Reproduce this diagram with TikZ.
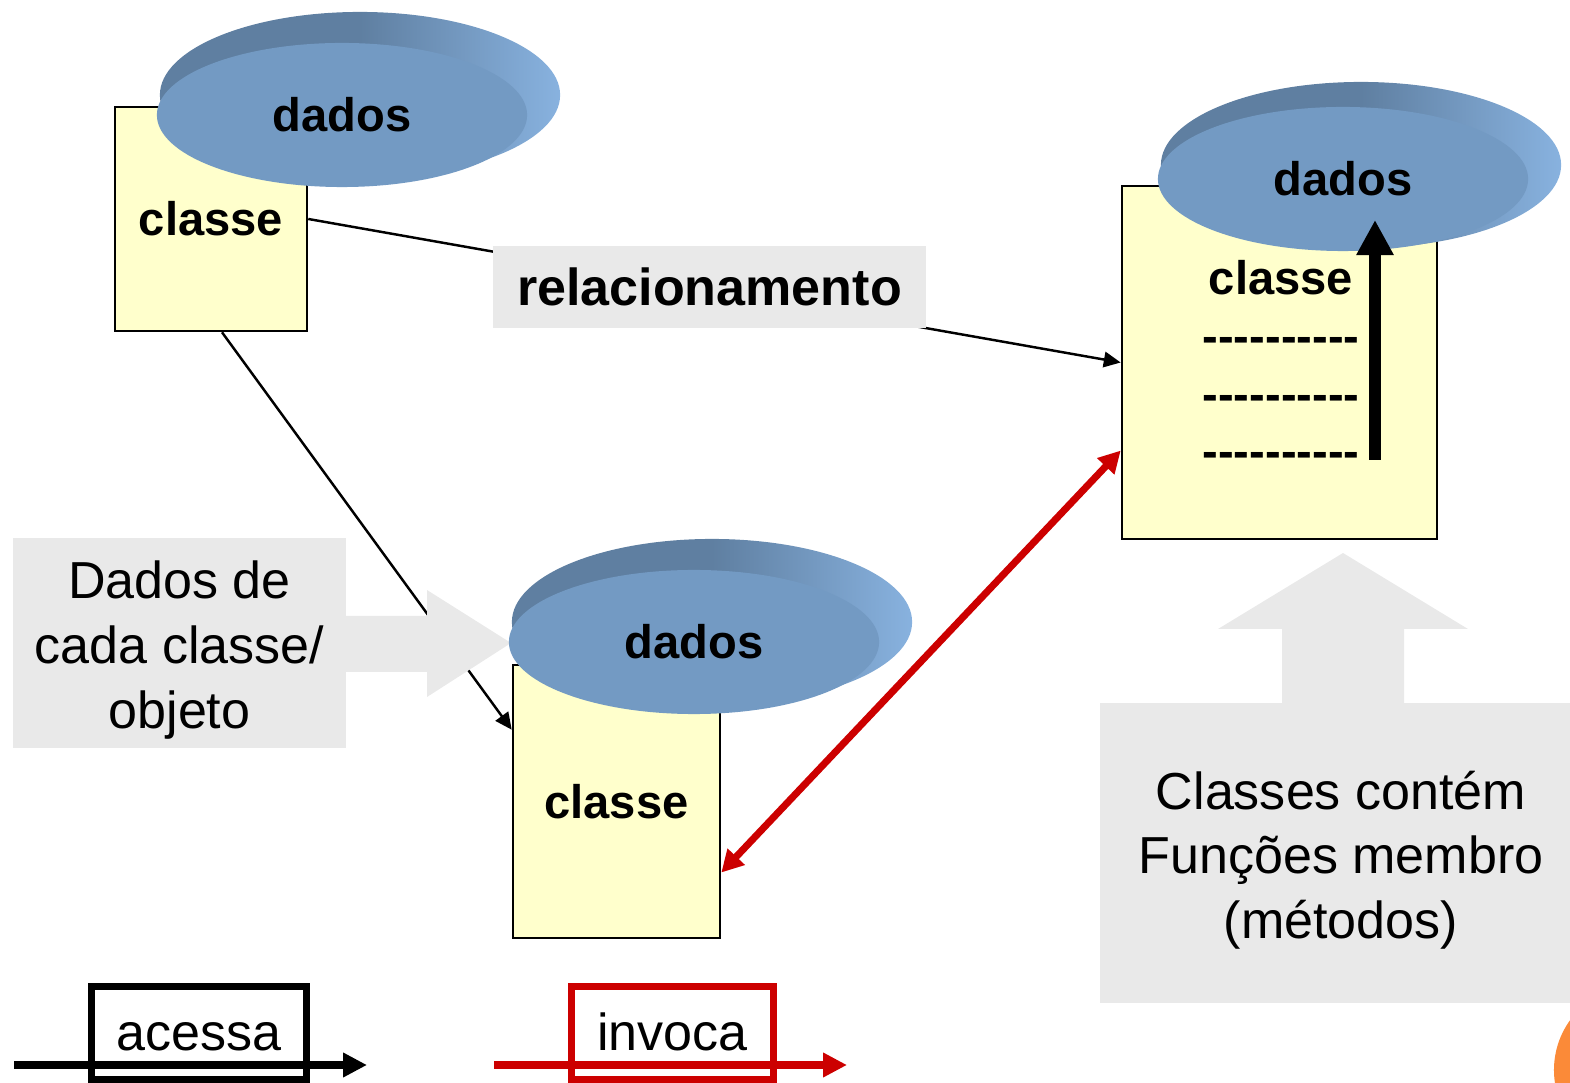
\documentclass[tikz,border=0pt]{standalone}
\usepackage{fontspec}
\setmainfont{Liberation Sans}
\usetikzlibrary{shapes.geometric,arrows.meta,calc}
\definecolor{classefill}{HTML}{FFFFCC}
\definecolor{cinza}{HTML}{E9E9E9}
\definecolor{corDisco}{HTML}{739AC3}
\definecolor{discoescuro}{HTML}{5F7FA1}
\definecolor{discoclaro}{HTML}{88B2DF}
\definecolor{vermelho}{HTML}{CC0000}
\definecolor{laranja}{HTML}{FB8A38}
\newcommand{\grande}{\fontsize{14.8pt}{18.4pt}\selectfont}
\newcommand{\rotulo}{\fontsize{13.4pt}{16pt}\selectfont\bfseries}
\newcommand{\rotuloG}{\fontsize{14.8pt}{18pt}\selectfont\bfseries}
\newcommand{\tracos}{\foreach \k in {1,...,10}{\mbox{-}}}
\tikzset{
  classebox/.style={draw=black, line width=0.7pt, fill=classefill, inner sep=0pt, font=\rotulo},
  discofundo/.style={ellipse, minimum width=4cm, minimum height=1.66cm, inner sep=0pt,
    left color=discoescuro, right color=discoclaro, middle color=discoescuro},
  discoface/.style={ellipse, fill=corDisco, minimum width=3.7cm, minimum height=1.44cm, inner sep=0pt, font=\rotulo},
  cinzabox/.style={fill=cinza, inner sep=0pt},
  acessa/.style={-{Triangle[length=4.8pt,width=4.4pt]}, line width=0.7pt},
  invoca/.style={{Triangle[length=6.2pt,width=6.4pt]}-{Triangle[length=6.2pt,width=6.4pt]}, vermelho, line width=2pt},
  legbox/.style={draw, line width=2pt, inner sep=0pt, minimum height=0.92cm, text height=0.34cm, text depth=0pt, font=\grande},
  legseta/.style={line width=2.3pt, -{Triangle[length=6.8pt,width=6.6pt]}}
}

\begin{document}
\begin{tikzpicture}[x=0.01cm,y=-0.01cm]
\useasboundingbox (0,0) rectangle (1570,1083);
\fill[laranja] (1639,1070) circle (0.85cm);
% classes
\node[classebox, minimum width=1.92cm, minimum height=2.24cm] (c1) at (211,219) {classe};
\node[classebox, minimum width=3.15cm, minimum height=3.53cm] (c2) at (1279.5,362.5) {};
\node[classebox, minimum width=2.07cm, minimum height=2.73cm] (c3) at (616.5,801.5) {classe};
% dados
\node[discofundo] (f1) at (360,95) {};
\node[discoface] (d1) at (342,115) {dados};
\node[discofundo] (f2) at (1361,165) {};
\node[discoface] (d2) at (1343,179) {dados};
% acessa: classe -> classe
\draw[acessa] ([xshift=0.11cm]c1.south) -- ([yshift=-0.66cm]c3.north west);
\fill[cinza] (346,616) -- (427,616) -- (427,590) -- (511,643) -- (427,697) -- (427,672) -- (346,672) -- cycle;
\node[cinzabox, minimum width=3.33cm, minimum height=2.1cm] (nota1) at (179.5,643) {};
\node[align=center, font=\grande, yshift=-0.07cm] (n1txt) at (nota1.center) {Dados de\\cada classe/\\objeto};
\node[discofundo] (f3) at (712,622) {};
\node[discoface] (d3) at (694,642) {dados};
% relacionamento
\draw[acessa] (c1.east) -- (c2.west);
\node[cinzabox, minimum width=4.33cm, minimum height=0.82cm, font=\rotuloG] (rel) at (709.5,287) {relacionamento};
% invoca
\draw[invoca] ([yshift=-0.88cm]c2.west) -- ([yshift=-0.71cm]c3.east);
% metodos
\node[font=\rotulo] (t0) at (1281,278) {classe};
\node[font=\rotulo] (t1) at (1281,345) {\tracos};
\node[font=\rotulo] (t2) at (1281,403) {\tracos};
\node[font=\rotulo] (t3) at (1281,460) {\tracos};
\coordinate (m0) at (1375,460);
\coordinate (m1) at (1375,220);
\draw[line width=3.4pt, -{Triangle[length=10pt,width=10pt]}] (m0) -- (m1);
% nota
\fill[cinza] (1282,705) -- (1282,629) -- (1218,629) -- (1343,553) -- (1468,629) -- (1404,629) -- (1404,705) -- cycle;
\node[cinzabox, minimum width=4.7cm, minimum height=3.0cm] (nota2) at (1335,853) {};
\node[align=center, font=\grande, yshift=-0.07cm] (n2txt) at (1341,853) {Classes contém\\Funções membro\\(métodos)};
% legenda
\node[legbox, minimum width=2.15cm] (leg1) at (199,1033) {acessa};
\coordinate (a0) at (14,1065);
\coordinate (a1) at (367,1065);
\draw[legseta] (a0) -- (a1);
\node[legbox, vermelho, text=black, minimum width=2.02cm] (leg2) at (672.5,1033) {invoca};
\coordinate (b0) at (494,1065);
\coordinate (b1) at (847,1065);
\draw[legseta, vermelho] (b0) -- (b1);
\end{tikzpicture}
\end{document}
